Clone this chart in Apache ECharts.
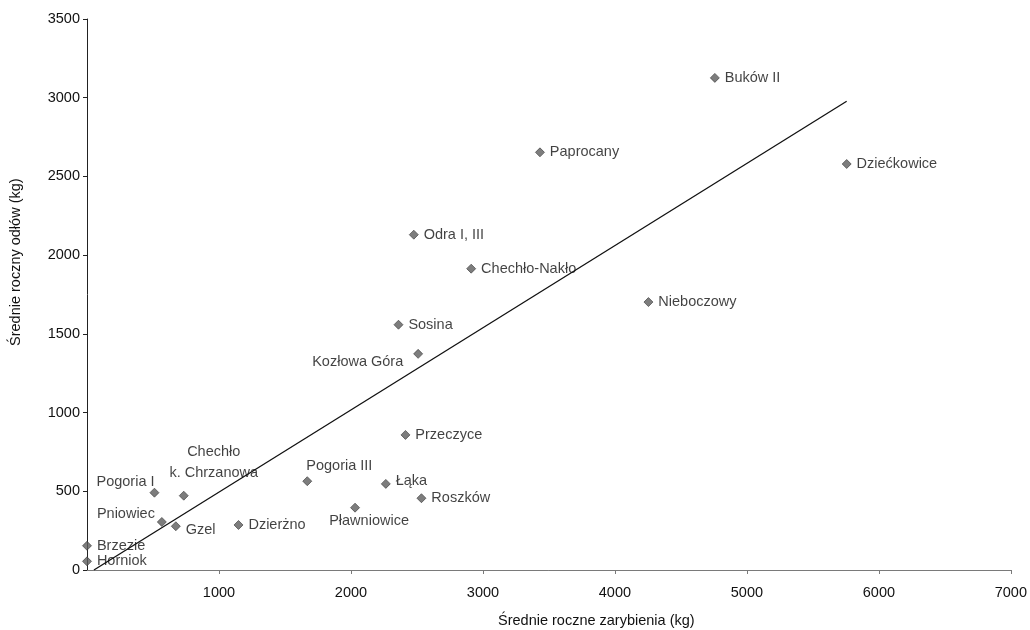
<!DOCTYPE html>
<html>
<head>
<meta charset="utf-8">
<style>
  html, body { margin: 0; padding: 0; background: #fff; }
  #chart { width: 1030px; height: 630px; }
</style>
<script src="https://cdn.jsdelivr.net/npm/echarts@6/dist/echarts.min.js"></script>
</head>
<body>
<div id="chart"></div>
<script>
// Reservoirs: mean annual stocking (kg) vs mean annual catch (kg)
const lakes = ['Brzezie', 'Horniok', 'Pogoria I', 'Chechło\nk. Chrzanowa', 'Pniowiec', 'Gzel',
  'Dzierżno', 'Pogoria III', 'Pławniowice', 'Łąka', 'Roszków', 'Przeczyce', 'Odra I, III',
  'Chechło-Nakło', 'Nieboczowy', 'Sosina', 'Kozłowa Góra', 'Buków II', 'Dziećkowice', 'Paprocany'];
const stocking = [0, 0, 511, 733, 567, 673, 1148, 1669, 2031, 2264, 2534, 2413, 2476,
  2911, 4254, 2360, 2509, 4757, 5756, 3432];
const catchKg = [154, 55, 491, 472, 305, 278, 286, 564, 396, 547, 456, 858, 2130,
  1914, 1702, 1558, 1373, 3126, 2579, 2653];

const xTicks = { min: 0, max: 7000, step: 1000 };
const yTicks = { min: 0, max: 3500, step: 500 };

// Label placement for points whose label is not simply to the right
const labelPlacement = {
  'Pogoria I': { position: 'left', distance: 0, offset: [5, -11] },
  'Pniowiec': { position: 'left', distance: 2, offset: [0, -8] },
  'Chechło\nk. Chrzanowa': { position: 'inside', align: 'center', offset: [30, -33], lineHeight: 21 },
  'Gzel': { offset: [0, 4] },
  'Pogoria III': { position: 'inside', align: 'left', offset: [-1, -15] },
  'Pławniowice': { position: 'inside', align: 'center', offset: [14, 13] },
  'Łąka': { offset: [0, -3] },
  'Kozłowa Góra': { position: 'left', distance: 10, offset: [0, 8] }
};

// Least-squares linear trend of catch on stocking
function linearFit(xs, ys) {
  const n = xs.length;
  const mx = xs.reduce((a, b) => a + b, 0) / n;
  const my = ys.reduce((a, b) => a + b, 0) / n;
  let sxy = 0, sxx = 0;
  for (let i = 0; i < n; i++) {
    sxy += (xs[i] - mx) * (ys[i] - my);
    sxx += (xs[i] - mx) * (xs[i] - mx);
  }
  const slope = sxy / sxx;
  return { slope, intercept: my - slope * mx };
}
const fit = linearFit(stocking, catchKg);
const xLo = Math.max(Math.min(...stocking), -fit.intercept / fit.slope);
const xHi = Math.max(...stocking);
const trend = [[xLo, fit.slope * xLo + fit.intercept], [xHi, fit.slope * xHi + fit.intercept]];

const textColor = '#111';
const fontSize = 14.5;
const fontFamily = '"Liberation Sans", Arial, Helvetica, sans-serif';
const plain = v => String(v);

const points = lakes.map((name, i) => {
  const p = labelPlacement[name] || {};
  return {
    name,
    value: [stocking[i], catchKg[i]],
    label: {
      show: true,
      formatter: name,
      color: textColor,
      position: p.position || 'right',
      distance: p.distance !== undefined ? p.distance : 5,
      offset: p.offset || [0, 0],
      align: p.align,
      lineHeight: p.lineHeight
    }
  };
});

const chart = echarts.init(document.getElementById('chart'), null, { renderer: 'canvas' });
chart.setOption({
  animation: false,
  backgroundColor: '#ffffff',
  textStyle: { fontFamily },
  grid: { left: 87, right: 19, top: 19, bottom: 60, containLabel: false },
  xAxis: {
    type: 'value',
    min: xTicks.min, max: xTicks.max, interval: xTicks.step,
    axisLine: { show: true, onZero: false, lineStyle: { color: '#7a7a7a', width: 1 } },
    axisTick: { show: true, inside: false, length: 4, lineStyle: { color: '#7a7a7a' } },
    axisLabel: { color: textColor, fontSize, margin: 15, showMinLabel: false, fontFamily, formatter: plain },
    splitLine: { show: false }
  },
  yAxis: {
    type: 'value',
    min: yTicks.min, max: yTicks.max, interval: yTicks.step,
    axisLine: { show: true, onZero: false, lineStyle: { color: '#222', width: 1 } },
    axisTick: { show: true, inside: false, length: 4, lineStyle: { color: '#222' } },
    axisLabel: { color: textColor, fontSize, margin: 7, fontFamily, formatter: plain },
    splitLine: { show: false }
  },
  graphic: [
    {
      type: 'text', left: 498, top: 613,
      style: { text: 'Średnie roczne zarybienia (kg)', fill: textColor, font: fontSize + 'px ' + fontFamily }
    },
    {
      type: 'text', x: 8, y: 346, rotation: Math.PI / 2,
      style: { text: 'Średnie roczny odłów (kg)', fill: textColor, font: fontSize + 'px ' + fontFamily,
        align: 'left', verticalAlign: 'top' }
    }
  ],
  series: [
    {
      type: 'line',
      data: trend,
      symbol: 'none',
      silent: true,
      lineStyle: { color: '#111', width: 1.3 },
      z: 1
    },
    {
      type: 'scatter',
      data: points,
      symbol: 'diamond',
      symbolSize: 9,
      itemStyle: { color: '#5c5c5c', borderColor: '#383838', borderWidth: 0.8 },
      label: { color: textColor, fontSize, fontFamily },
      z: 2
    }
  ]
});
</script>
</body>
</html>
